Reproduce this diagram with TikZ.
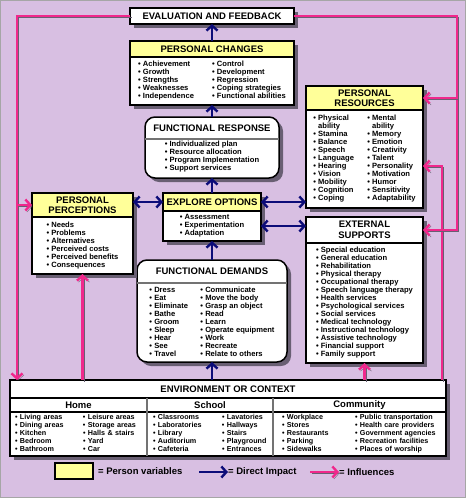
\documentclass[tikz,border=0pt]{standalone}
\usepackage{fontspec}
\setmainfont{Liberation Sans}
\usepackage{tikz}
\usetikzlibrary{positioning, arrows.meta, shadows}

\definecolor{bgpurple}{RGB}{216,191,226}
\definecolor{hdyellow}{RGB}{255,255,153}
\definecolor{impblue}{RGB}{12,12,120}
\definecolor{infpink}{RGB}{240,40,140}
\definecolor{shade}{RGB}{105,95,115}

\newcommand{\hdfont}{\fontsize{9.5}{10.5}\selectfont\bfseries}
\newcommand{\lstfont}{\fontsize{7.6}{8}\selectfont\bfseries}
\newcommand{\envfont}{\fontsize{7.2}{7.8}\selectfont\bfseries}

\tikzstyle{shd}=[drop shadow={shadow xshift=4pt, shadow yshift=-4pt, fill=shade, opacity=1}]
\tikzstyle{bx}=[shape=rectangle,
                draw=black,
                line width=1.5pt,
                inner sep=0pt,
                outer sep=0pt]
\tikzstyle{hd}=[bx, shd, fill=hdyellow, font=\hdfont, align=center]
\tikzstyle{bd}=[bx, shd, fill=white, font=\lstfont, align=left]
\tikzstyle{rbox}=[bx, shd, fill=white, rounded corners=10pt]
\tikzstyle{rhd}=[font=\hdfont, inner sep=0pt, outer sep=0pt]
\tikzstyle{rbd}=[font=\lstfont, align=left, inner sep=2pt, outer sep=0pt]
\tikzstyle{splitline}=[draw=black!55, line width=1.2pt]
\tikzstyle{colhd}=[font=\hdfont, inner sep=0pt, outer sep=0pt, minimum height=14pt]
\tikzstyle{envbd}=[font=\envfont, align=left, inner ysep=0pt, outer sep=0pt, minimum height=44pt]
\tikzstyle{lgtext}=[font=\hdfont, inner sep=0pt, anchor=west]
\tikzstyle{impact}=[color=impblue, line width=2.4pt]
\tikzstyle{influence}=[draw=infpink, line width=2.4pt, ->,
                preaction={draw=shade, transform canvas={shift={(1.5pt,-1.5pt)}}}]

\begin{document}
\begin{tikzpicture}[x=1pt, y=-1pt, >={Straight Barb[length=5pt,width=11pt]}]

% background
\useasboundingbox (0,0) rectangle (466,498);
\fill[bgpurple] (0,0) rectangle (466,498);
\draw[black!35, line width=0.8pt] (0.4,0.4) rectangle (465.6,497.6);

% centre column
\node[bx, shd, fill=white, font=\hdfont, minimum width=164pt, minimum height=16pt] (ef) at (212,16) {EVALUATION AND FEEDBACK};

\node[hd, minimum width=164pt, minimum height=16pt] (pch) at (212,49) {PERSONAL CHANGES};
\node[bd, below=0pt of pch, minimum width=164pt, minimum height=48pt] (pcb) {\begin{tabular}{@{}p{74pt}@{}l@{}}
• Achievement & • Control\\
• Growth & • Development\\
• Strengths & • Regression\\
• Weaknesses & • Coping strategies\\
• Independence & • Functional abilities
\end{tabular}};

\node[rbox, minimum width=134pt, minimum height=61pt] (fr) at (212,147.5) {};
\node[rhd, below=0pt of fr.north, minimum height=22pt] (frh) {FUNCTIONAL RESPONSE};
\node[rbd, below=0pt of frh] (frb) {• Individualized plan\\ • Resource allocation\\ • Program Implementation\\ • Support services};
\draw[splitline] (frh.south -| fr.west) -- (frh.south -| fr.east);

\node[hd, minimum width=98pt, minimum height=18pt] (eoh) at (212,202) {EXPLORE OPTIONS};
\node[bd, below=0pt of eoh, minimum width=98pt, minimum height=30pt] (eob) {• Assessment\\ • Experimentation\\ • Adaptation};

\node[rbox, minimum width=150pt, minimum height=102pt] (fd) at (212,311) {};
\node[rhd, below=0pt of fd.north, minimum height=23pt] (fdh) {FUNCTIONAL DEMANDS};
\node[rbd, below=0pt of fdh, minimum height=79pt] (fdb) {\begin{tabular}{@{}p{51pt}@{}l@{}}
• Dress & • Communicate\\
• Eat & • Move the body\\
• Eliminate & • Grasp an object\\
• Bathe & • Read\\
• Groom & • Learn\\
• Sleep & • Operate equipment\\
• Hear & • Work\\
• See & • Recreate\\
• Travel & • Relate to others
\end{tabular}};
\draw[splitline] (fdh.south -| fd.west) -- (fdh.south -| fd.east);

% side boxes
\node[hd, minimum width=101pt, minimum height=24pt] (pph) at (82.5,205) {PERSONAL\\PERCEPTIONS};
\node[bd, below=0pt of pph, minimum width=101pt, minimum height=57pt] (ppb) {• Needs\\ • Problems\\ • Alternatives\\ • Perceived costs\\ • Perceived benefits\\ • Consequences};

\node[hd, minimum width=117pt, minimum height=24pt] (prh) at (364.5,98) {PERSONAL\\RESOURCES};
\node[bd, below=0pt of prh, minimum width=117pt, minimum height=98pt] (prb) {\begin{tabular}{@{}p{54pt}@{}l@{}}
• Physical & • Mental\\
\phantom{• }ability & \phantom{• }ability\\
• Stamina & • Memory\\
• Balance & • Emotion\\
• Speech & • Creativity\\
• Language & • Talent\\
• Hearing & • Personality\\
• Vision & • Motivation\\
• Mobility & • Humor\\
• Cognition & • Sensitivity\\
• Coping & • Adaptability
\end{tabular}};

\node[hd, fill=white, minimum width=117pt, minimum height=26pt] (esh) at (364.5,230) {EXTERNAL\\SUPPORTS};
\node[bd, below=0pt of esh, minimum width=117pt, minimum height=120pt] (esb) {• Special education\\ • General education\\ • Rehabilitation\\ • Physical therapy\\ • Occupational therapy\\ • Speech language therapy\\ • Health services\\ • Psychological services\\ • Social services\\ • Medical technology\\ • Instructional technology\\ • Assistive technology\\ • Financial support\\ • Family support};

% environment or context
\node[bx, shd, fill=white, minimum width=436pt, minimum height=76pt] (env) at (228,418) {};
\node[rhd, below=0pt of env.north, minimum height=18pt] (envt) {ENVIRONMENT OR CONTEXT};
\node[colhd, minimum width=137pt, anchor=north west] (home) at (envt.south -| env.west) {Home};
\node[colhd, minimum width=126pt, right=0pt of home] (school) {School};
\node[colhd, minimum width=173pt, right=0pt of school] (comm) {Community};
\node[envbd, text width=127pt, inner xsep=5pt, below=0pt of home] (homeb) {\begin{tabular}{@{}p{68pt}@{}l@{}}
• Living areas & • Leisure areas\\
• Dining areas & • Storage areas\\
• Kitchen & • Halls \& stairs\\
• Bedroom & • Yard\\
• Bathroom & • Car
\end{tabular}};
\node[envbd, text width=114pt, inner xsep=6pt, below=0pt of school] (schoolb) {\begin{tabular}{@{}p{69pt}@{}l@{}}
• Classrooms & • Lavatories\\
• Laboratories & • Hallways\\
• Library & • Stairs\\
• Auditorium & • Playground\\
• Cafeteria & • Entrances
\end{tabular}};
\node[envbd, text width=155pt, inner xsep=9pt, below=0pt of comm] (commb) {\begin{tabular}{@{}p{73pt}@{}l@{}}
• Workplace & • Public transportation\\
• Stores & • Health care providers\\
• Restaurants & • Government agencies\\
• Parking & • Recreation facilities\\
• Sidewalks & • Places of worship
\end{tabular}};
\draw[splitline, black] (envt.south -| env.west) -- (envt.south -| env.east);
\draw[splitline, black] (home.south -| env.west) -- (home.south -| env.east);
\draw[splitline] (home.north east) -- (homeb.south east);
\draw[splitline] (school.north east) -- (schoolb.south east);

% key
\node[bx, fill=hdyellow, minimum width=38pt, minimum height=16pt] (lgy) at (74,471) {};
\node[lgtext, right=5pt of lgy] (lgyt) {= Person variables};
\node[lgtext] (lgit) at (228,472) {= Direct Impact};
\coordinate[left=29pt of lgit.west] (lgia);
\node[lgtext] (lgpt) at (339,472) {= Influences};
\coordinate[left=29pt of lgpt.west] (lgpa);

% direct impact
\path[impact, ->] (pch.north) edge (pch.north |- ef.south);
\path[impact, ->] (fr.north) edge (fr.north |- pcb.south);
\path[impact, ->] (eoh.north) edge (eoh.north |- fr.south);
\path[impact, ->] (fd.north) edge (fd.north |- eob.south);
\path[impact, ->] (env.north -| fd.south) edge (fd.south);
\path[impact, <->] (eoh.west) edge (eoh.west -| pph.east);
\path[impact, <->] (eoh.east) edge (eoh.east -| prb.west);
\path[impact, <->] (eob.east) edge (eob.east -| esh.west);
\path[impact, ->] (lgia) edge (lgit.west);

% influences
\coordinate (lc) at (17,380);
\coordinate (rc) at (457,230);
\coordinate (ic) at (442,166);
\draw[influence] (env.north -| ic) |- (prb.east |- ic);
\draw[influence] (ef.west) -| (lc);
\draw[influence] (pph.west -| lc) -- (pph.west);
\draw[influence] (ef.east) -| (rc) -- (esh.east);
\draw[influence] (prh.east -| rc) -- (prh.east);
\draw[influence] (env.north -| esb.south) -- (esb.south);
\draw[influence] (env.north -| ppb.south) -- (ppb.south);
\draw[influence] (lgpa) -- (lgpt.west);

\end{tikzpicture}
\end{document}
